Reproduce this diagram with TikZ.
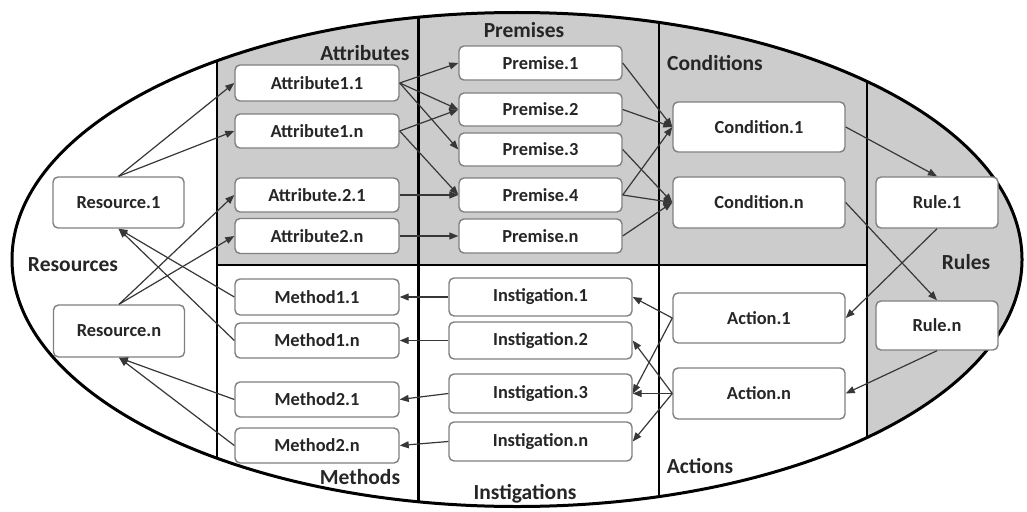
\documentclass[tikz,border=0pt]{standalone}
\usepackage{fontspec}
\setmainfont{Carlito}
\usetikzlibrary{arrows.meta}
\definecolor{panel}{RGB}{204,204,204}
\definecolor{ink}{RGB}{38,38,38}
\definecolor{edge}{RGB}{128,128,128}
\definecolor{wire}{RGB}{55,55,55}
\tikzset{
  box/.style={draw=edge, line width=1.4pt, rounded corners=5pt, fill=white,
    text=ink, font=\fontsize{18.4}{20}\selectfont\bfseries, inner sep=0pt},
  heading/.style={text=ink, font=\fontsize{21.5}{24}\selectfont\bfseries, inner sep=0pt},
  link/.style={draw=wire, line width=1.2pt, -{Triangle[length=9pt,width=7pt]}},
  divider/.style={draw=black, line width=2.6pt},
}
\newcommand{\bx}[6]{\node[box, minimum width=#4pt, minimum height=#5pt] (#1) at (#2,#3) {#6};}
\begin{document}
\begin{tikzpicture}[x=1pt, y=-1pt]
\useasboundingbox (0,0) rectangle (1027,511);
\fill[white] (0,0) rectangle (1027,511);

% shaded panels and dividers, cut to the outline
\begin{scope}
  \clip (517,259.5) ellipse [x radius=505, y radius=247];
  \fill[panel] (217,0) rectangle (867,265);
  \fill[panel] (867,0) rectangle (1027,511);
  \draw[divider] (217,0) -- (217,511);
  \draw[divider] (418.5,0) -- (418.5,511);
  \draw[divider] (659,0) -- (659,511);
  \draw[divider] (867,0) -- (867,511);
  \draw[divider] (217,265) -- (867,265);
\end{scope}
\draw[black, line width=3pt] (517,259.5) ellipse [x radius=505, y radius=247];

% section headings
\node[heading] (hAttr) at (365,53) {Attributes};
\node[heading] (hPrem) at (524,30) {Premises};
\node[heading] (hCond) at (715,63) {Conditions};
\node[heading] (hRes)  at (73,265) {Resources};
\node[heading] (hMeth) at (360,477) {Methods};
\node[heading] (hInst) at (525,494) {Instigations};
\node[heading] (hAct)  at (700,466) {Actions};
\node[heading] (hRule) at (966,262) {Rules};

% resources
\bx{res1}{118.5}{202.5}{131}{51}{Resource.1}
\bx{resn}{119}{331}{131}{52}{Resource.n}
% attributes
\bx{a11}{317}{83}{164}{36}{Attribute1.1}
\bx{a1n}{317}{131}{164}{34}{Attribute1.n}
\bx{a21}{317}{195}{164}{34}{Attribute.2.1}
\bx{a2n}{317}{236}{164}{35}{Attribute2.n}
% methods
\bx{m11}{317}{297}{164}{36}{Method1.1}
\bx{m1n}{317}{340.5}{164}{35}{Method1.n}
\bx{m21}{317}{399.5}{164}{35}{Method2.1}
\bx{m2n}{317}{445.5}{164}{35}{Method2.n}
% premises
\bx{p1}{540.5}{63}{163}{34}{Premise.1}
\bx{p2}{540.5}{109.5}{163}{33}{Premise.2}
\bx{p3}{540.5}{149.5}{163}{33}{Premise.3}
\bx{p4}{540.5}{195}{163}{34}{Premise.4}
\bx{pn}{540.5}{236}{163}{34}{Premise.n}
% instigations
\bx{i1}{540.5}{297}{183}{38}{Instigation.1}
\bx{i2}{540.5}{340.5}{183}{37}{Instigation.2}
\bx{i3}{540.5}{393.5}{183}{39}{Instigation.3}
\bx{in}{540.5}{441.5}{183}{39}{Instigation.n}
% conditions and actions
\bx{c1}{759}{127}{172}{50}{Condition.1}
\bx{cn}{759}{202.5}{172}{51}{Condition.n}
\bx{ac1}{759}{318}{172}{50}{Action.1}
\bx{acn}{759}{393.5}{172}{51}{Action.n}
% rules
\bx{r1}{937}{202.5}{122}{51}{Rule.1}
\bx{rn}{937}{325.5}{122}{49}{Rule.n}

% resources feed attributes
\draw[link] (res1.north) -- (a11.west);
\draw[link] (res1.north) -- (a1n.west);
\draw[link] (resn.north) -- (a21.west);
\draw[link] (resn.north) -- (a2n.west);
% methods act back on resources
\draw[link] (m11.west) -- (res1.south);
\draw[link] (m1n.west) -- (res1.south);
\draw[link] (m21.west) -- (resn.south);
\draw[link] (m2n.west) -- (resn.south);
% attributes to premises
\draw[link] (a11.east) -- (p1.west);
\draw[link] (a11.east) -- (p2.west);
\draw[link] (a11.east) -- (p3.west);
\draw[link] (a1n.east) -- (p2.west);
\draw[link] (a1n.east) -- (p4.west);
\draw[link] (a21.east) -- (p4.west);
\draw[link] (a2n.east) -- (pn.west);
% premises to conditions
\draw[link] (p1.east) -- (c1.west);
\draw[link] (p2.east) -- (c1.west);
\draw[link] (p4.east) -- (c1.west);
\draw[link] (p3.east) -- (cn.west);
\draw[link] (p4.east) -- (cn.west);
\draw[link] (pn.east) -- (cn.west);
% conditions to rules, rules to actions
\draw[link] (c1.east) -- (r1.north);
\draw[link] (cn.east) -- (rn.north);
\draw[link] (r1.south) -- (ac1.east);
\draw[link] (rn.south) -- (acn.east);
% actions to instigations
\draw[link] (ac1.west) -- (i1.east);
\draw[link] (ac1.west) -- (i3.east);
\draw[link] (acn.west) -- (i2.east);
\draw[link] (acn.west) -- (i3.east);
\draw[link] (acn.west) -- (in.east);
% instigations to methods
\draw[link] (i1.west) -- (m11.east);
\draw[link] (i2.west) -- (m1n.east);
\draw[link] (i3.west) -- (m21.east);
\draw[link] (in.west) -- (m2n.east);
\end{tikzpicture}
\end{document}
